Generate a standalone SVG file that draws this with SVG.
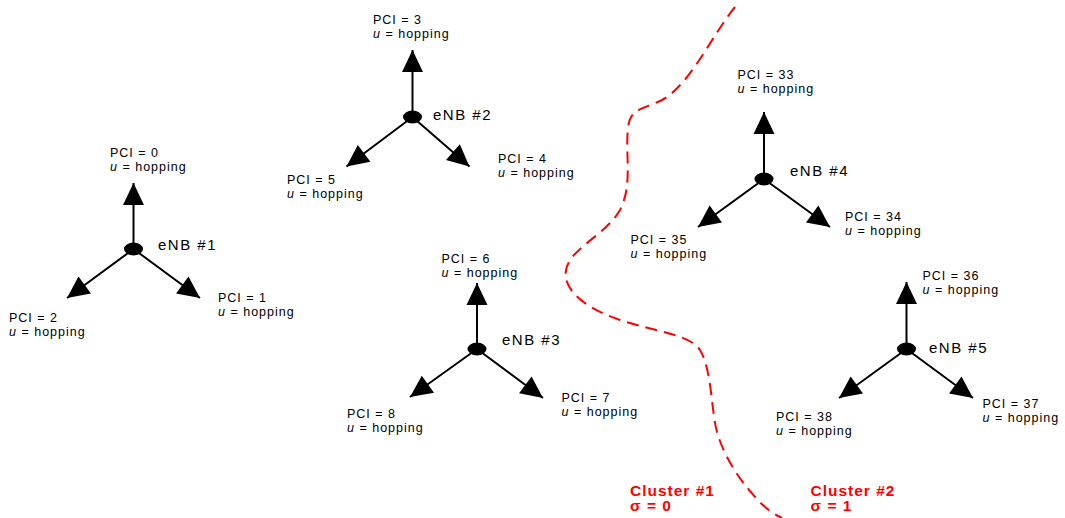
<svg xmlns="http://www.w3.org/2000/svg" width="1065" height="518" viewBox="0 0 1065 518">
  <style>
    .lbl { font-family: "Liberation Sans", Arial, sans-serif; font-size: 12.5px; letter-spacing: 1px; fill: #000; }
    .enb { font-family: "Liberation Sans", Arial, sans-serif; font-size: 15px; letter-spacing: 1.5px; fill: #000; }
    .cl { font-family: "Liberation Sans", Arial, sans-serif; font-size: 15.5px; font-weight: bold; letter-spacing: 1px; fill: #ff0000; }
    .it { font-style: italic; }
    .sector { stroke: #000; stroke-width: 2; fill: none; marker-end: url(#head); }
    .site { fill: #000; }
    .border { stroke: #ff0000; stroke-width: 2; fill: none; stroke-dasharray: 12 7; }
  </style>
  <defs>
    <marker id="head" markerUnits="userSpaceOnUse" markerWidth="25" markerHeight="25" viewBox="-1 -12 25 24" refX="22" refY="0" orient="auto">
      <path d="M0,-10.5 L22,0 L0,10.5 z" fill="#000"/>
    </marker>
  </defs>
  <rect width="1065" height="518" fill="#fff"/>

  <!-- cluster boundary -->
  <path class="border" d="M735,7 C712,35 690,85 662,100 C642,110 630,108 628,128 C625,155 633,185 620,210 C605,236 570,248 566,270 C562,292 590,310 620,320 C652,331 690,334 700,350 C712,370 711,410 717,432 C725,460 743,484 756,498 C765,508 773,514 782,518"/>

  <!-- sector antennas -->
  <g id="connectors">
    <line class="sector" x1="133.5" y1="249" x2="133.5" y2="183"/>
    <line class="sector" x1="133.5" y1="249" x2="67" y2="298"/>
    <line class="sector" x1="133.5" y1="249" x2="200" y2="298"/>

    <line class="sector" x1="412.5" y1="117" x2="412.5" y2="50"/>
    <line class="sector" x1="412.5" y1="117" x2="346.5" y2="166.5"/>
    <line class="sector" x1="412.5" y1="117" x2="469.5" y2="166.5"/>

    <line class="sector" x1="477" y1="349" x2="477" y2="283"/>
    <line class="sector" x1="477" y1="349" x2="410" y2="397"/>
    <line class="sector" x1="477" y1="349" x2="543" y2="398"/>

    <line class="sector" x1="764" y1="179" x2="764" y2="112"/>
    <line class="sector" x1="764" y1="179" x2="698" y2="227"/>
    <line class="sector" x1="764" y1="179" x2="830" y2="227"/>

    <line class="sector" x1="906.5" y1="349" x2="906.5" y2="282"/>
    <line class="sector" x1="906.5" y1="349" x2="839" y2="398"/>
    <line class="sector" x1="906.5" y1="349" x2="973" y2="398"/>
  </g>

  <g id="enb1">
    <ellipse class="site" cx="133.5" cy="249" rx="9.5" ry="6.5"/>
    <text class="enb" x="158" y="250">eNB #1</text>
    <text class="lbl" x="110" y="156.5">PCI = 0<tspan x="110" dy="14"><tspan class="it">u</tspan> = hopping</tspan></text>
    <text class="lbl" x="218" y="301.5">PCI = 1<tspan x="218" dy="14"><tspan class="it">u</tspan> = hopping</tspan></text>
    <text class="lbl" x="9" y="322">PCI = 2<tspan x="9" dy="14"><tspan class="it">u</tspan> = hopping</tspan></text>
  </g>

  <g id="enb2">
    <ellipse class="site" cx="412.5" cy="117" rx="9.5" ry="6.5"/>
    <text class="enb" x="433" y="120">eNB #2</text>
    <text class="lbl" x="373" y="24">PCI = 3<tspan x="373" dy="14"><tspan class="it">u</tspan> = hopping</tspan></text>
    <text class="lbl" x="498" y="162.5">PCI = 4<tspan x="498" dy="14"><tspan class="it">u</tspan> = hopping</tspan></text>
    <text class="lbl" x="287" y="184">PCI = 5<tspan x="287" dy="14"><tspan class="it">u</tspan> = hopping</tspan></text>
  </g>

  <g id="enb3">
    <ellipse class="site" cx="477" cy="349" rx="9.5" ry="6.5"/>
    <text class="enb" x="502" y="344.5">eNB #3</text>
    <text class="lbl" x="441.5" y="262.5">PCI = 6<tspan x="441.5" dy="14"><tspan class="it">u</tspan> = hopping</tspan></text>
    <text class="lbl" x="561.5" y="402">PCI = 7<tspan x="561.5" dy="14"><tspan class="it">u</tspan> = hopping</tspan></text>
    <text class="lbl" x="347" y="418">PCI = 8<tspan x="347" dy="14"><tspan class="it">u</tspan> = hopping</tspan></text>
  </g>

  <g id="enb4">
    <ellipse class="site" cx="764" cy="179" rx="9.5" ry="6.5"/>
    <text class="enb" x="790" y="175.5">eNB #4</text>
    <text class="lbl" x="737.5" y="79">PCI = 33<tspan x="737.5" dy="14"><tspan class="it">u</tspan> = hopping</tspan></text>
    <text class="lbl" x="845" y="220.5">PCI = 34<tspan x="845" dy="14"><tspan class="it">u</tspan> = hopping</tspan></text>
    <text class="lbl" x="630.5" y="244">PCI = 35<tspan x="630.5" dy="14"><tspan class="it">u</tspan> = hopping</tspan></text>
  </g>

  <g id="enb5">
    <ellipse class="site" cx="906.5" cy="349" rx="9.5" ry="6.5"/>
    <text class="enb" x="929" y="352.5">eNB #5</text>
    <text class="lbl" x="922.5" y="280">PCI = 36<tspan x="922.5" dy="14"><tspan class="it">u</tspan> = hopping</tspan></text>
    <text class="lbl" x="982.5" y="408">PCI = 37<tspan x="982.5" dy="14"><tspan class="it">u</tspan> = hopping</tspan></text>
    <text class="lbl" x="776" y="421">PCI = 38<tspan x="776" dy="14"><tspan class="it">u</tspan> = hopping</tspan></text>
  </g>

  <g id="cluster1">
    <text class="cl" x="630" y="495.5">Cluster #1<tspan x="630" dy="15.5">σ = 0</tspan></text>
  </g>
  <g id="cluster2">
    <text class="cl" x="810.5" y="495.5">Cluster #2<tspan x="810.5" dy="15.5">σ = 1</tspan></text>
  </g>
</svg>
